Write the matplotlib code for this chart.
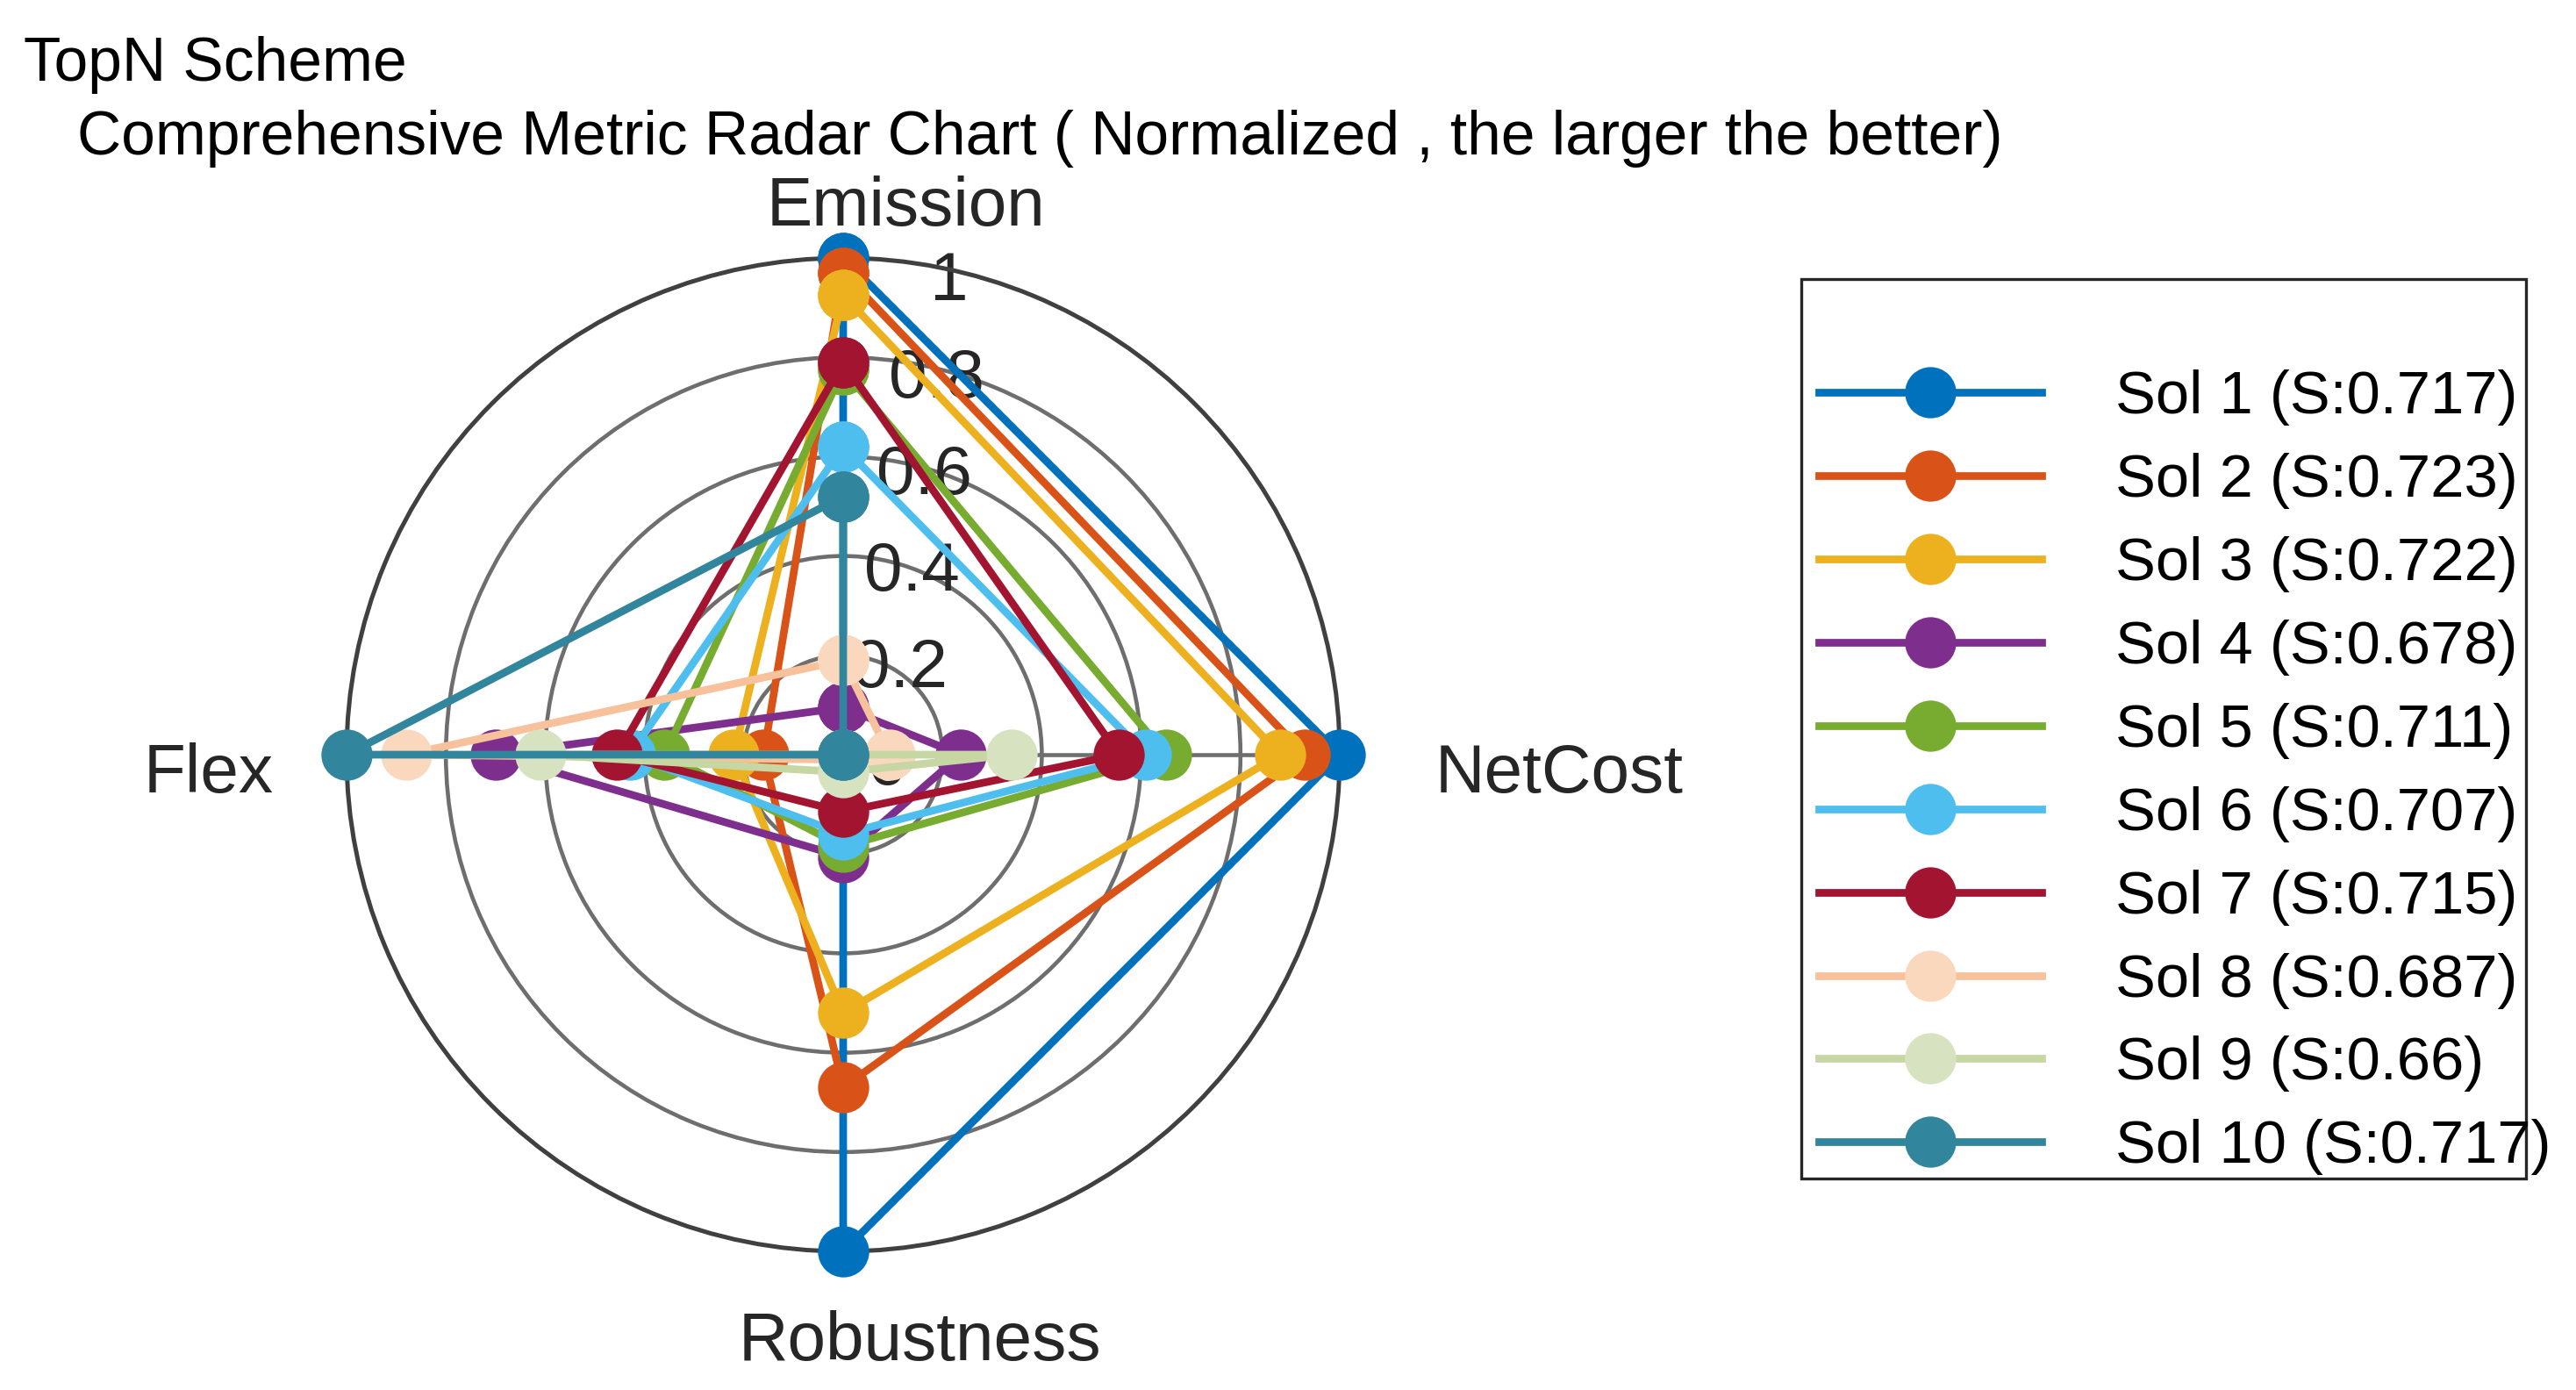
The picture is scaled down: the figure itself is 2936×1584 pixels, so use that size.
import numpy as np
import matplotlib
matplotlib.use("Agg")
import matplotlib.pyplot as plt
from matplotlib.patches import Rectangle

plt.rcParams['font.family'] = ['Liberation Sans', 'DejaVu Sans']

# ---------------- data ----------------
metrics = ["Emission", "NetCost", "Robustness", "Flex"]
solutions = ["Sol 1", "Sol 2", "Sol 3", "Sol 4", "Sol 5",
             "Sol 6", "Sol 7", "Sol 8", "Sol 9", "Sol 10"]
scores = ["0.717", "0.723", "0.722", "0.678", "0.711",
          "0.707", "0.715", "0.687", "0.66", "0.717"]
emission   = [1.00, 0.97, 0.925, 0.095, 0.775, 0.62, 0.79, 0.19, 0.00, 0.52]
netcost    = [1.00, 0.93, 0.88, 0.237, 0.65, 0.61, 0.555, 0.093, 0.34, 0.00]
robustness = [1.00, 0.67, 0.52, 0.206, 0.185, 0.16, 0.115, 0.01, 0.035, 0.00]
flex       = [0.00, 0.16, 0.22, 0.70, 0.36, 0.43, 0.455, 0.88, 0.61, 1.00]
r_ticks = [0, 0.2, 0.4, 0.6, 0.8, 1.0]
r_tick_labels = ["0", "0.2", "0.4", "0.6", "0.8", "1"]

line_colors = ["#0072BD", "#D95319", "#EDB120", "#7E2F8E", "#77AC30",
               "#4DBEEE", "#A2142F", "#F6C19B", "#C6D7A4", "#31859C"]
marker_colors = ["#0072BD", "#D95319", "#EDB120", "#7E2F8E", "#77AC30",
                 "#4DBEEE", "#A2142F", "#FAD8BE", "#D7E2C1", "#31859C"]

# ---------------- figure ----------------
W, H, DPI = 2937, 1584, 300
fig = plt.figure(figsize=(W / DPI, H / DPI), dpi=DPI)

cx, cy, R = 961, 860, 566  # pixel layout of radar circle
ax = fig.add_axes([(cx - R) / W, 1 - (cy + R) / H, 2 * R / W, 2 * R / H],
                  projection='polar')
ax.set_theta_zero_location('N')
ax.set_theta_direction(-1)
ax.set_ylim(0, 1)

angles = np.arange(len(metrics)) * 2 * np.pi / len(metrics)
ax.set_xticks(angles)
ax.set_xticklabels([])
ax.set_yticks([0.2, 0.4, 0.6, 0.8])
ax.set_yticklabels([])
ax.xaxis.grid(True, color='#6e6e6e', linewidth=1.1)
ax.yaxis.grid(True, color='#6e6e6e', linewidth=1.1)
ax.spines['polar'].set_color('#404040')
ax.spines['polar'].set_linewidth(1.2)
ax.set_axisbelow(True)
ax.tick_params(length=0)

closed = np.concatenate([angles, angles[:1]])
handles = []
for i, name in enumerate(solutions):
    vals = [emission[i], netcost[i], robustness[i], flex[i]]
    vals = vals + vals[:1]
    h, = ax.plot(closed, vals, '-o', color=line_colors[i], linewidth=2.1,
                 markersize=14, markerfacecolor=marker_colors[i],
                 markeredgewidth=0, clip_on=False, zorder=3 + i * 0.01,
                 label=f"{name} (S:{scores[i]})")
    handles.append(h)

# radial tick labels
for rv, lab in zip(r_ticks, r_tick_labels):
    ax.text(0.5 + (27 + 38 * rv) / 608, 0.5 + (296 * rv - 7) / 608, lab,
            transform=ax.transAxes, ha='center', va='center',
            fontsize=18.8, color='#262626', zorder=1)

# axis labels
label_pos = [(0.563, 1.033), (1.221, 0.462), (0.577, -0.1095), (-0.139, 0.462)]
for lab, (x, y) in zip(metrics, label_pos):
    ax.text(x, y, lab, transform=ax.transAxes, ha='center', va='baseline',
            fontsize=18.8, color='#262626')

# title
fig.text(27 / W, 1 - 92 / H, "TopN Scheme", fontsize=16.7, color='black',
         ha='left', va='baseline')
fig.text(88 / W, 1 - 176 / H,
         "Comprehensive Metric Radar Chart ( Normalized , the larger the better)",
         fontsize=16.7, color='black', ha='left', va='baseline')

# legend
leg = fig.legend(handles=handles, loc='upper left',
                 bbox_to_anchor=(2073 / W, 1 - 421 / H),
                 frameon=False, fontsize=16.5, handlelength=3.7,
                 handletextpad=1.22, labelspacing=0.45, borderpad=0,
                 borderaxespad=0)
for t in leg.get_texts():
    t.set_color('black')
fig.add_artist(Rectangle((2053 / W, 1 - 1343 / H), 826 / W, 1025 / H,
                         transform=fig.transFigure, fill=False,
                         edgecolor='#262626', linewidth=0.8))

fig.savefig("out.png", dpi=DPI, facecolor='white')
